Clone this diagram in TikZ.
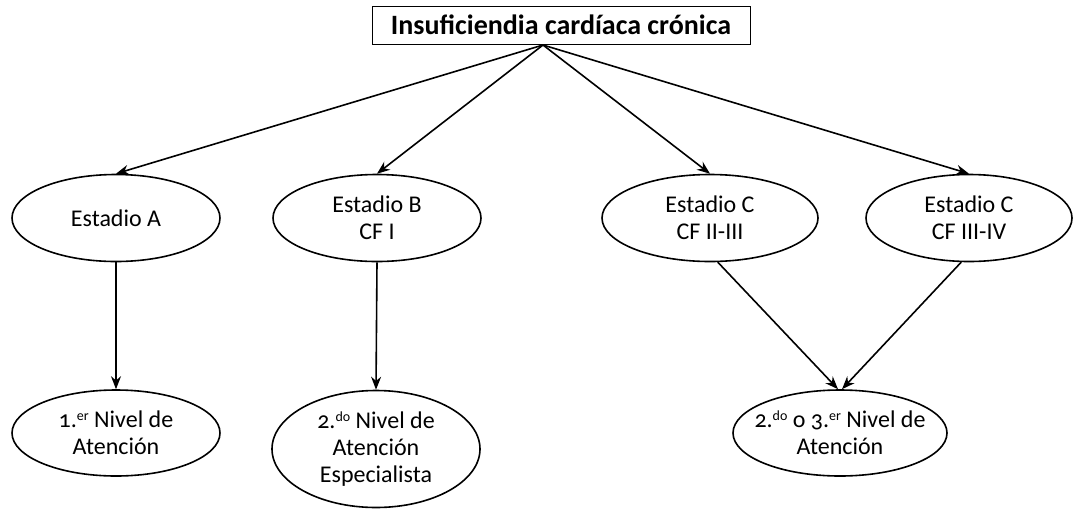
\documentclass[tikz,border=0pt]{standalone}
\usepackage{fontspec}
\setmainfont[Numbers=OldStyle]{Carlito}
\usetikzlibrary{shapes.geometric,arrows.meta}
\newcommand{\sps}[1]{\raisebox{0.6ex}{\fontsize{14}{14}\selectfont #1}}
\begin{document}
\begin{tikzpicture}[x=1pt,y=-1pt,
  oval/.style={draw,ellipse,line width=1.6pt,inner sep=0pt,align=center,font=\fontsize{24}{27}\selectfont},
  arr/.style={line width=1.6pt,-{Stealth[length=13pt,width=10pt]}},
  titlebox/.style={draw,line width=1pt,inner sep=0pt,minimum width=378pt,minimum height=38pt,font=\bfseries\fontsize{28}{32}\selectfont}]
\useasboundingbox (0,0) rectangle (1074,512);
\node[titlebox] (top) at (561,25) {Insuficiendia cardíaca crónica};
\coordinate (src) at (543,45);
\node[oval,minimum width=208pt,minimum height=87pt] (a) at (116,218) {Estadio A};
\node[oval,minimum width=208pt,minimum height=87pt] (b) at (377,218) {Estadio B\\CF I};
\node[oval,minimum width=216pt,minimum height=87pt] (c1) at (710,218) {Estadio C\\CF II-III};
\node[oval,minimum width=206pt,minimum height=87pt] (c2) at (969,218) {Estadio C\\CF III-IV};
\node[oval,minimum width=208pt,minimum height=86pt] (n1) at (116,433) {1.\sps{er} Nivel de\\Atención};
\node[oval,minimum width=208pt,minimum height=117pt] (n2) at (376,449) {2.\sps{do} Nivel de\\Atención\\Especialista};
\node[oval,inner xsep=-26pt,inner ysep=2pt,minimum width=214pt,minimum height=86pt] (n3) at (840,433) {2.\sps{do} o 3.\sps{er} Nivel de\\Atención};
\draw[arr] (src) -- (a.north);
\draw[arr] (src) -- (b.north);
\draw[arr] (src) -- (c1.north);
\draw[arr] (src) -- (c2.north);
\draw[arr] (a.south) -- (n1.north);
\draw[arr] (b.south) -- (n2.north);
\draw[arr] (c1.-80) -- ([xshift=-2pt]n3.north);
\draw[arr] (c2.-100) -- ([xshift=2pt]n3.north);
\end{tikzpicture}
\end{document}
